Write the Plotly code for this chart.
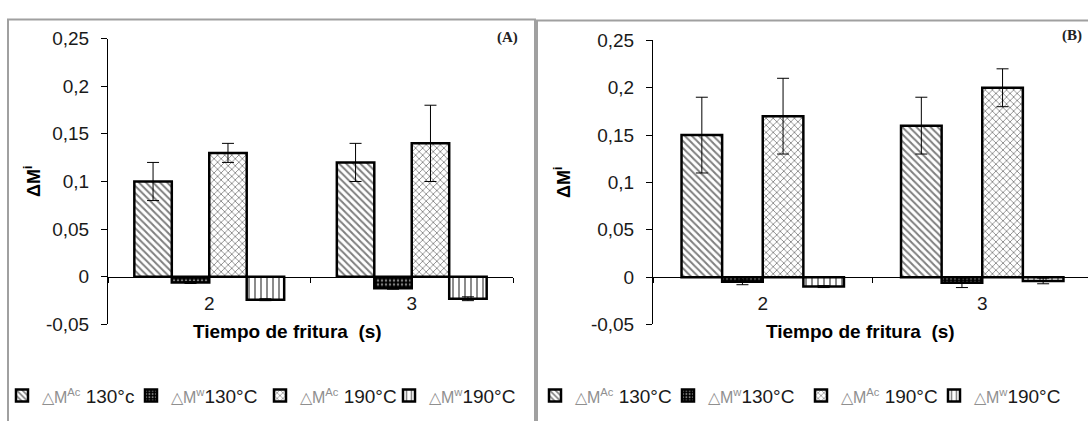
import plotly.graph_objects as go

W, H = 1088, 421

# Frying times (categories on the x axis)
tiempos = ["2", "3"]

# Panel A values and error bars
a_ac130 = [0.10, 0.12]
a_ac130_err = [0.02, 0.02]
a_w130 = [-0.006, -0.012]
a_w130_err = [0.001, 0.001]
a_ac190 = [0.13, 0.14]
a_ac190_err = [0.01, 0.04]
a_w190 = [-0.024, -0.023]
a_w190_err = [0.001, 0.002]

# Panel B values and error bars
b_ac130 = [0.15, 0.16]
b_ac130_err = [0.04, 0.03]
b_w130 = [-0.005, -0.006]
b_w130_err = [0.003, 0.005]
b_ac190 = [0.17, 0.20]
b_ac190_err = [0.04, 0.02]
b_w190 = [-0.010, -0.004]
b_w190_err = [0.001, 0.003]

# Y axis ticks (comma decimal separator)
y_tickvals = [-0.05, 0, 0.05, 0.1, 0.15, 0.2, 0.25]
y_ticktext = ["-0,05", "0", "0,05", "0,1", "0,15", "0,2", "0,25"]

FONT = "Arial, Liberation Sans, sans-serif"
SERIF = "Times New Roman, Liberation Serif, serif"


def px_x(x):
    return x / W


def px_y(y):
    return 1 - y / H


def label(sup, temp):
    return ('<span style="font-size:16px;color:#8f8f8f">\u25b3M<sup>%s</sup></span>%s'
            % (sup, temp))


patterns = [
    dict(shape="\\", fgcolor="black", bgcolor="white", size=5, solidity=0.4),
    dict(shape=".", fgcolor="white", bgcolor="black", size=4, solidity=0.3),
    dict(shape="x", fgcolor="black", bgcolor="white", size=5, solidity=0.3),
    dict(shape="|", fgcolor="black", bgcolor="white", size=6, solidity=0.3),
]

labels_a = [label("Ac", " 130°c"), label("w", "130°C"), label("Ac", " 190°C"), label("w", "190°C")]
labels_b = [label("Ac", " 130°C"), label("w", "130°C"), label("Ac", " 190°C"), label("w", "190°C")]

series_a = [(a_ac130, a_ac130_err), (a_w130, a_w130_err), (a_ac190, a_ac190_err), (a_w190, a_w190_err)]
series_b = [(b_ac130, b_ac130_err), (b_w130, b_w130_err), (b_ac190, b_ac190_err), (b_w190, b_w190_err)]

fig = go.Figure()


def add_panel(series, labels, xa, ya, legend):
    for (vals, errs), name, pat in zip(series, labels, patterns):
        fig.add_trace(go.Bar(
            x=tiempos, y=vals, name=name, xaxis=xa, yaxis=ya, legend=legend,
            marker=dict(color="white", pattern=pat, line=dict(color="black", width=2.5)),
            error_y=dict(type="data", array=errs, visible=True, color="black",
                         thickness=1, width=6),
        ))


add_panel(series_a, labels_a, "x", "y", "legend")
add_panel(series_b, labels_b, "x2", "y2", "legend2")

# y domains (pixel rows of 0.25 and -0.05)
ydom_a = [px_y(331), px_y(30)]
ydom_b = [px_y(331), px_y(32)]
pos_a = ydom_a[0] + (ydom_a[1] - ydom_a[0]) / 6
pos_b = ydom_b[0] + (ydom_b[1] - ydom_b[0]) / 6

xa_common = dict(type="category", anchor="free", showline=True, linecolor="black",
                 linewidth=1, ticks="outside", tickson="boundaries", ticklen=5,
                 tickcolor="black", tickfont=dict(size=19, color="#1a1a1a", family=FONT),
                 ticklabelstandoff=9, showgrid=False, zeroline=False)
ya_common = dict(range=[-0.05, 0.25], tickvals=y_tickvals, ticktext=y_ticktext,
                 ticks="outside", ticklen=6, tickcolor="black", showline=True,
                 linecolor="black", linewidth=1, zeroline=False, showgrid=False,
                 tickfont=dict(size=19, color="#1a1a1a", family=FONT),
                 ticklabelstandoff=8)

b_end = -0.5 + (W - 653) / 219.5

ann_common = dict(xref="paper", yref="paper", showarrow=False, xanchor="center", yanchor="middle")

fig.update_layout(
    width=W, height=H,
    margin=dict(l=0, r=0, t=0, b=0),
    paper_bgcolor="white", plot_bgcolor="white",
    barmode="group", bargap=0.26, bargroupgap=0,
    font=dict(family=FONT, color="#1a1a1a"),
    xaxis=dict(domain=[px_x(108), px_x(513)], position=pos_a, range=[-0.5, 1.5], **xa_common),
    yaxis=dict(domain=ydom_a, anchor="x", **ya_common),
    xaxis2=dict(domain=[px_x(653), 1.0], position=pos_b, range=[-0.5, b_end], **xa_common),
    yaxis2=dict(domain=ydom_b, anchor="x2", **ya_common),
    legend=dict(orientation="h", x=px_x(2), y=px_y(406), xanchor="left", yanchor="middle",
                font=dict(size=19, color="#1a1a1a", family=FONT), bgcolor="rgba(0,0,0,0)",
                entrywidth=84, entrywidthmode="pixels", itemwidth=30, traceorder="normal"),
    legend2=dict(orientation="h", x=px_x(535), y=px_y(406), xanchor="left", yanchor="middle",
                 font=dict(size=19, color="#1a1a1a", family=FONT), bgcolor="rgba(0,0,0,0)",
                 entrywidth=88, entrywidthmode="pixels", itemwidth=30, traceorder="normal"),
    shapes=[
        dict(type="rect", xref="paper", yref="paper", x0=px_x(8), x1=px_x(535),
             y0=-0.1, y1=px_y(10), line=dict(color="#a0a0a0", width=2)),
        dict(type="rect", xref="paper", yref="paper", x0=px_x(537), x1=1.1,
             y0=-0.1, y1=px_y(11), line=dict(color="#a0a0a0", width=2)),
    ],
    annotations=[
        dict(text="<b>Tiempo de fritura  (s)</b>", x=px_x(287), y=px_y(338),
             font=dict(size=19, color="black"), **ann_common),
        dict(text="<b>Tiempo de fritura  (s)</b>", x=px_x(860), y=px_y(338),
             font=dict(size=19, color="black"), **ann_common),
        dict(text="<b>\u0394M<sup>i</sup></b>", textangle=-90, x=px_x(33), y=px_y(181),
             font=dict(size=18, color="black"), **ann_common),
        dict(text="<b>\u0394M<sup>i</sup></b>", textangle=-90, x=px_x(563), y=px_y(182),
             font=dict(size=18, color="black"), **ann_common),
        dict(text="<b>(A)</b>", x=px_x(507), y=px_y(29),
             font=dict(size=15, color="#222", family=SERIF), **ann_common),
        dict(text="<b>(B)</b>", x=px_x(1072), y=px_y(27),
             font=dict(size=15, color="#222", family=SERIF), **ann_common),
    ],
)

fig.write_html("out.html")
